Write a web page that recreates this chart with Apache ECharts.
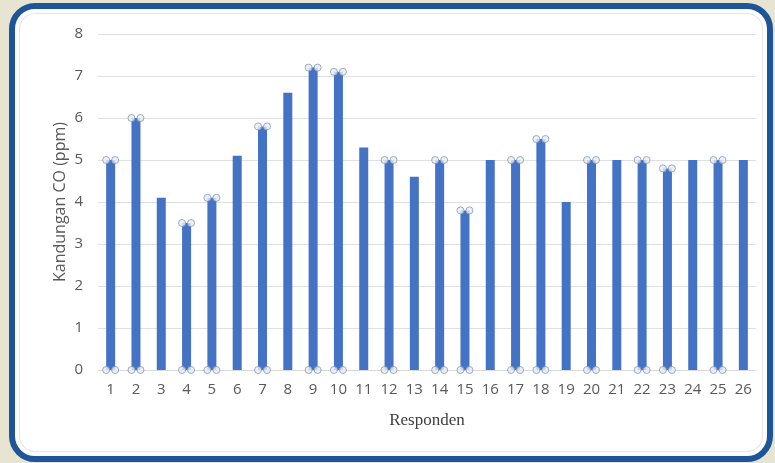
<!DOCTYPE html>
<html>
<head>
<meta charset="utf-8">
<script src="https://cdn.jsdelivr.net/npm/echarts@6/dist/echarts.min.js"></script>
<style>
  html, body { margin: 0; padding: 0; width: 775px; height: 463px; overflow: hidden; background: #e7e4d2; }
  #frame {
    position: absolute; left: 9px; top: 3px; width: 752px; height: 447px;
    border: 6px solid #1d5598; border-radius: 26px; background: #ffffff;
    box-shadow: inset 0 0 0 4px #ffffff, inset 0 0 0 5px #e3e6ea;
  }
  #chart { position: absolute; left: 0; top: 0; width: 775px; height: 463px; }
</style>
</head>
<body>
<div id="frame"></div>
<div id="chart"></div>
<script>
// Respondent numbers and measured CO content (ppm)
const responden = ['1','2','3','4','5','6','7','8','9','10','11','12','13','14','15','16','17','18','19','20','21','22','23','24','25','26'];
const kandunganCO = [5, 6, 4.1, 3.5, 4.1, 5.1, 5.8, 6.6, 7.2, 7.1, 5.3, 5, 4.6, 5, 3.8, 5, 5, 5.5, 4, 5, 5, 5, 4.8, 5, 5, 5];
// Bars that carry selection handles at their corners
const terpilih = ['1','2','4','5','7','9','10','12','14','15','17','18','20','22','23','25'];
const yTicks = [0, 1, 2, 3, 4, 5, 6, 7, 8];

const handlePoints = [];
terpilih.forEach(function (r) {
  const v = kandunganCO[responden.indexOf(r)];
  handlePoints.push([r, v], [r, 0]);
});

const handleStyle = { color: '#e9eef4', borderColor: '#8799b0', borderWidth: 1 };

const chart = echarts.init(document.getElementById('chart'), null, { renderer: 'canvas' });
chart.setOption({
  animation: false,
  backgroundColor: 'transparent',
  grid: { left: 98, right: 19, top: 34, bottom: 93 },
  xAxis: {
    type: 'category',
    data: responden,
    name: 'Responden',
    nameLocation: 'middle',
    nameGap: 42,
    nameTextStyle: { fontFamily: 'Liberation Serif', fontSize: 17, color: '#404040' },
    axisLine: { show: true, lineStyle: { color: '#d9d9d9', width: 1 } },
    axisTick: { show: false },
    axisLabel: { fontFamily: 'Open Sans', fontSize: 15, color: '#595959', margin: 12 }
  },
  yAxis: {
    type: 'value',
    min: yTicks[0],
    max: yTicks[yTicks.length - 1],
    interval: 1,
    name: 'Kandungan CO (ppm)',
    nameLocation: 'middle',
    nameRotate: 90,
    nameGap: 30,
    nameMoveOverlap: false,
    nameTextStyle: { fontFamily: 'Open Sans', fontSize: 16, color: '#595959' },
    axisLine: { show: false },
    axisTick: { show: false },
    axisLabel: { fontFamily: 'Open Sans', fontSize: 15, color: '#595959', margin: 15 },
    splitLine: { lineStyle: { color: '#e0e0e0', width: 1 } }
  },
  series: [
    {
      type: 'bar',
      data: kandunganCO,
      barWidth: 9,
      itemStyle: { color: '#4472c4' }
    },
    {
      type: 'scatter',
      data: handlePoints,
      symbol: 'circle',
      symbolSize: 7,
      symbolOffset: [-4.5, 0],
      itemStyle: handleStyle,
      z: 5
    },
    {
      type: 'scatter',
      data: handlePoints,
      symbol: 'circle',
      symbolSize: 7,
      symbolOffset: [4.5, 0],
      itemStyle: handleStyle,
      z: 5
    }
  ]
});
</script>
</body>
</html>
